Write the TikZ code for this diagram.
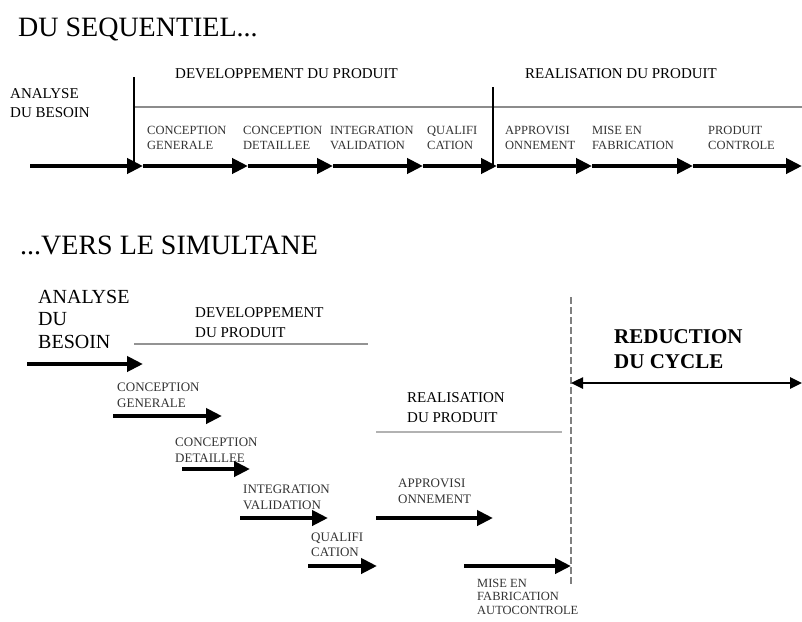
\documentclass[tikz,border=0pt]{standalone}
\usepackage{fontspec}
\setmainfont{Liberation Serif}
\usetikzlibrary{arrows.meta}
\begin{document}
\begin{tikzpicture}[x=1pt,y=-1pt,
  title/.style={anchor=north west,inner sep=0pt,font=\fontsize{28}{30}\selectfont},
  phase/.style={anchor=north west,inner sep=0pt,align=left,font=\fontsize{15}{19}\selectfont},
  phasebig/.style={anchor=north west,inner sep=0pt,align=left,font=\fontsize{20}{22.5}\selectfont},
  task/.style={anchor=north west,inner sep=0pt,align=left,text=black!80,font=\fontsize{12.5}{15}\selectfont},
  tasklow/.style={anchor=north west,inner sep=0pt,align=left,text=black!80,font=\fontsize{13}{16}\selectfont},
  gain/.style={anchor=north west,inner sep=0pt,align=left,font=\fontsize{21}{25}\selectfont\bfseries},
  flow/.style={line width=4pt,-{Triangle[length=16pt,width=15pt]}},
  divider/.style={line width=2pt},
  sep/.style={line width=1.5pt,gray},
]
\useasboundingbox (0,0) rectangle (802,621);

% ---------- sequential organisation ----------
\node[title] (t1) at (18,18) {DU SEQUENTIEL...};
\node[phase] (ab1) at (10,88) {ANALYSE\\DU BESOIN};
\node[phase] (dp1) at (175,68) {DEVELOPPEMENT DU PRODUIT};
\node[phase] (rp1) at (525,68) {REALISATION DU PRODUIT};

\coordinate (v1t) at (134,77);
\coordinate (v1b) at (134,166);
\coordinate (v2t) at (493,87);
\coordinate (v2b) at (493,166);
\coordinate (hl) at (134,107);
\coordinate (hr) at (802,107);
\draw[sep,gray!90] (hl) -- (hr);
\draw[divider] (v1t) -- (v1b);
\draw[divider] (v2t) -- (v2b);

\node[task] (cg1) at (147,126) {CONCEPTION\\GENERALE};
\node[task] (cd1) at (243,126) {CONCEPTION\\DETAILLEE};
\node[task] (iv1) at (330,126) {INTEGRATION\\VALIDATION};
\node[task] (q1)  at (427,126) {QUALIFI\\CATION};
\node[task] (ap1) at (505,126) {APPROVISI\\ONNEMENT};
\node[task] (mf1) at (592,126) {MISE EN\\FABRICATION};
\node[task] (pc1) at (708,126) {PRODUIT\\CONTROLE};

\coordinate (s0) at (30,166);
\coordinate (s1) at (143,166);
\coordinate (s2) at (248,166);
\coordinate (s3) at (333,166);
\coordinate (s4) at (423,166);
\coordinate (s5) at (497,166);
\coordinate (s6) at (592,166);
\coordinate (s7) at (693,166);
\coordinate (s8) at (802,166);
\foreach \a/\b in {s0/s1,s1/s2,s2/s3,s3/s4,s4/s5,s5/s6,s6/s7,s7/s8}
  \draw[flow] (\a) -- (\b);

% ---------- concurrent organisation ----------
\node[title] (t2) at (20,236) {...VERS LE SIMULTANE};
\node[phasebig] (ab2) at (38,290) {ANALYSE\\DU\\BESOIN};
\node[phase,font=\fontsize{15}{20}\selectfont] (dp2) at (195,307) {DEVELOPPEMENT\\DU PRODUIT};
\node[phase,font=\fontsize{15}{20}\selectfont] (rp2) at (407,392) {REALISATION\\DU PRODUIT};
\node[gain] (rc) at (614,329) {REDUCTION\\DU CYCLE};

\coordinate (d1) at (134,344);
\coordinate (d2) at (368,344);
\draw[sep,gray!85] (d1) -- (d2);
\coordinate (r1) at (376,432);
\coordinate (r2) at (562,432);
\draw[line width=2.5pt,gray!60] (r1) -- (r2);

\node[tasklow] (cg2) at (117,383) {CONCEPTION\\GENERALE};
\node[tasklow] (cd2) at (175,438) {CONCEPTION\\DETAILLEE};
\node[tasklow] (iv2) at (243,485) {INTEGRATION\\VALIDATION};
\node[tasklow,font=\fontsize{13}{14.5}\selectfont] (q2) at (311,533) {QUALIFI\\CATION};
\node[tasklow] (ap2) at (398,479) {APPROVISI\\ONNEMENT};
\node[tasklow,font=\fontsize{12.5}{13.5}\selectfont] (mf2) at (477,579) {MISE EN\\FABRICATION\\AUTOCONTROLE};

\coordinate (a0) at (27,364);   \coordinate (a1) at (143,364);
\coordinate (b0) at (113,416);  \coordinate (b1) at (222,416);
\coordinate (c0) at (182,469);  \coordinate (c1) at (250,469);
\coordinate (e0) at (240,518);  \coordinate (e1) at (328,518);
\coordinate (f0) at (308,566);  \coordinate (f1) at (377,566);
\coordinate (g0) at (376,518);  \coordinate (g1) at (493,518);
\coordinate (h0) at (464,566);  \coordinate (h1) at (571,566);
\foreach \a/\b in {a0/a1,b0/b1,c0/c1,e0/e1,f0/f1,g0/g1,h0/h1}
  \draw[flow] (\a) -- (\b);

% end of the concurrent cycle and time saved
\coordinate (endt) at (571,297);
\coordinate (endb) at (571,584);
\draw[line width=1.5pt,gray,dash pattern=on 7pt off 3pt] (endt) -- (endb);
\coordinate (gl) at (571,383);
\coordinate (gr) at (802,383);
\draw[line width=2.5pt,{Triangle[length=12pt,width=11pt]}-{Triangle[length=12pt,width=11pt]}] (gl) -- (gr);
\end{tikzpicture}
\end{document}
